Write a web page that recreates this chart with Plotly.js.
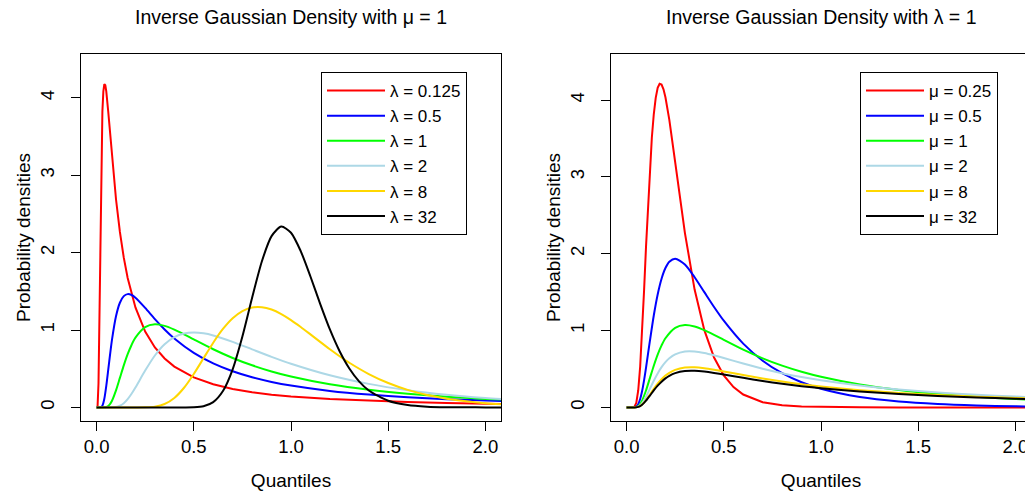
<!DOCTYPE html>
<html>
<head>
<meta charset="utf-8">
<script src="https://cdn.plot.ly/plotly-3.0.1.min.js"></script>
<style>
html,body{margin:0;padding:0;overflow:hidden;background:#fff;}
#plot{width:1060px;height:495px;}
</style>
</head>
<body>
<div id="plot"></div>
<script>
const leftLabels = ["λ = 0.125", "λ = 0.5", "λ = 1", "λ = 2", "λ = 8", "λ = 32"];
const rightLabels = ["μ = 0.25", "μ = 0.5", "μ = 1", "μ = 2", "μ = 8", "μ = 32"];
const colors = ["#FF0000", "#0000FF", "#00FF00", "#ADD8E6", "#FFD700", "#000000"];
const xTickVals = [0, 0.5, 1, 1.5, 2];
const xTickText = ["0.0", "0.5", "1.0", "1.5", "2.0"];
const yTickVals = [0, 1, 2, 3, 4];
const yTickText = ["0", "1", "2", "3", "4"];

// ---------- Left panel: mu = 1, varying lambda ----------
const xL1 = [0, 0.005, 0.01, 0.015, 0.02, 0.025, 0.03, 0.035, 0.04, 0.045, 0.05, 0.06, 0.07, 0.08, 0.1, 0.12, 0.14, 0.16, 0.18, 0.2, 0.25, 0.3, 0.35, 0.4, 0.5, 0.6, 0.7, 0.8, 0.9, 1.0, 1.2, 1.4, 1.6, 1.8, 2.0, 2.1];
const yL1 = [0, 0.0017, 0.308, 1.348, 2.480, 3.314, 3.823, 4.084, 4.177, 4.163, 4.083, 3.823, 3.518, 3.218, 2.689, 2.267, 1.935, 1.673, 1.462, 1.291, 0.980, 0.775, 0.632, 0.527, 0.387, 0.299, 0.239, 0.197, 0.165, 0.141, 0.107, 0.0845, 0.0687, 0.0571, 0.0483, 0.0447];

const xL2 = [0, 0.01, 0.02, 0.03, 0.04, 0.05, 0.06, 0.07, 0.08, 0.1, 0.12, 0.14, 0.16, 0.18, 0.2, 0.25, 0.3, 0.35, 0.4, 0.5, 0.6, 0.7, 0.8, 0.9, 1.0, 1.2, 1.4, 1.6, 1.8, 2.0, 2.1];
const yL2 = [0, 0, 0.0006, 0.0214, 0.1111, 0.2769, 0.4834, 0.6940, 0.8853, 1.1775, 1.3519, 1.4375, 1.4636, 1.4518, 1.4171, 1.2859, 1.1413, 1.0075, 0.8905, 0.7041, 0.5678, 0.4664, 0.3893, 0.3295, 0.2821, 0.2128, 0.1655, 0.1318, 0.1069, 0.0880, 0.0803];

const xL3 = [0, 0.02, 0.04, 0.05, 0.06, 0.07, 0.08, 0.1, 0.12, 0.14, 0.16, 0.18, 0.2, 0.25, 0.3, 0.35, 0.4, 0.45, 0.5, 0.6, 0.7, 0.8, 0.9, 1.0, 1.2, 1.4, 1.6, 1.8, 2.0, 2.1];
const yL3 = [0, 0, 0.0005, 0.0043, 0.0172, 0.0447, 0.0889, 0.2198, 0.3809, 0.5427, 0.6873, 0.8069, 0.9005, 1.0361, 1.0729, 1.0536, 1.0055, 0.9443, 0.8788, 0.7512, 0.6388, 0.5438, 0.4647, 0.3989, 0.2985, 0.2275, 0.1761, 0.1383, 0.1098, 0.0983];

const xL4 = [0, 0.06, 0.08, 0.1, 0.12, 0.14, 0.16, 0.18, 0.2, 0.25, 0.3, 0.35, 0.4, 0.45, 0.5, 0.55, 0.6, 0.7, 0.8, 0.9, 1.0, 1.2, 1.4, 1.6, 1.8, 2.0, 2.1];
const yL4 = [0, 0, 0.0006, 0.0054, 0.0214, 0.0547, 0.1072, 0.1763, 0.2571, 0.4757, 0.6706, 0.8149, 0.9068, 0.9542, 0.9679, 0.9571, 0.9298, 0.8471, 0.7500, 0.6535, 0.5642, 0.4151, 0.3038, 0.2226, 0.1637, 0.1210, 0.1042];

const xL5 = [0, 0.2, 0.25, 0.3, 0.35, 0.4, 0.45, 0.5, 0.55, 0.6, 0.65, 0.7, 0.75, 0.8, 0.85, 0.9, 0.95, 1.0, 1.05, 1.1, 1.15, 1.2, 1.25, 1.3, 1.4, 1.5, 1.6, 1.7, 1.8, 1.9, 2.0, 2.1];
const yL5 = [0, 0, 0.0011, 0.0100, 0.0436, 0.1219, 0.2540, 0.4319, 0.6343, 0.8356, 1.0133, 1.1520, 1.2448, 1.2911, 1.2952, 1.2641, 1.2059, 1.1284, 1.0388, 0.9431, 0.8461, 0.7513, 0.6611, 0.5771, 0.4312, 0.3154, 0.2267, 0.1607, 0.1127, 0.0783, 0.0540, 0.0370];

const xL6 = [0, 0.4, 0.45, 0.5, 0.55, 0.6, 0.65, 0.7, 0.75, 0.8, 0.85, 0.9, 0.95, 1.0, 1.05, 1.1, 1.15, 1.2, 1.25, 1.3, 1.35, 1.4, 1.5, 1.6, 1.7, 1.8, 1.9, 2.0, 2.1];
const yL6 = [0, 0, 0.0002, 0.0021, 0.0153, 0.0681, 0.2111, 0.4925, 0.9159, 1.4172, 1.8854, 2.2127, 2.3368, 2.2568, 2.0191, 1.6913, 1.3381, 1.0072, 0.7256, 0.5030, 0.3369, 0.2188, 0.0854, 0.0305, 0.0101, 0.0032, 0.0009, 0.0003, 0.0001];

// ---------- Right panel: lambda = 1, varying mu ----------
const xR1 = [0, 0.02, 0.03, 0.04, 0.05, 0.06, 0.07, 0.08, 0.09, 0.1, 0.11, 0.12, 0.13, 0.14, 0.15, 0.16, 0.17, 0.18, 0.19, 0.2, 0.22, 0.25, 0.3, 0.35, 0.4, 0.45, 0.5, 0.55, 0.6, 0.7, 0.8, 0.9, 1.0, 1.2, 1.4, 1.6, 2.1];
const yR1 = [0, 0, 0.0002, 0.0074, 0.0593, 0.2204, 0.5311, 0.9799, 1.5181, 2.0854, 2.6288, 3.1105, 3.5088, 3.8145, 4.0286, 4.1576, 4.2115, 4.2017, 4.1396, 4.0358, 3.7416, 3.1916, 2.2713, 1.5330, 1.0055, 0.6490, 0.4151, 0.2641, 0.1676, 0.0673, 0.0271, 0.0109, 0.0044, 0.0007, 0.0001, 0, 0];

const xR2 = [0, 0.02, 0.03, 0.04, 0.05, 0.06, 0.07, 0.08, 0.09, 0.1, 0.12, 0.14, 0.16, 0.18, 0.2, 0.22, 0.25, 0.3, 0.35, 0.4, 0.45, 0.5, 0.6, 0.7, 0.8, 0.9, 1.0, 1.2, 1.4, 1.6, 1.8, 2.0, 2.1];
const yR2 = [0, 0, 0, 0.0013, 0.0108, 0.0428, 0.1094, 0.2143, 0.3526, 0.5143, 0.8648, 1.1958, 1.4695, 1.6745, 1.8134, 1.8956, 1.9358, 1.8596, 1.6942, 1.5001, 1.3070, 1.1284, 0.8302, 0.6076, 0.4452, 0.3274, 0.2420, 0.1341, 0.0757, 0.0434, 0.0253, 0.0149, 0.0115];

const xR3 = xL3;
const yR3 = yL3;

const xR4 = [0, 0.03, 0.04, 0.05, 0.06, 0.07, 0.08, 0.09, 0.1, 0.12, 0.14, 0.16, 0.18, 0.2, 0.22, 0.25, 0.3, 0.35, 0.4, 0.45, 0.5, 0.6, 0.7, 0.8, 0.9, 1.0, 1.2, 1.4, 1.6, 1.8, 2.0, 2.1];
const yR4 = [0, 0, 0.0003, 0.0027, 0.0107, 0.0278, 0.0556, 0.0931, 0.1384, 0.2417, 0.3469, 0.4426, 0.5236, 0.5887, 0.6389, 0.6902, 0.7282, 0.7287, 0.7086, 0.6780, 0.6429, 0.5706, 0.5037, 0.4452, 0.3950, 0.3521, 0.2839, 0.2332, 0.1947, 0.1647, 0.1411, 0.1310];

const xR5 = xR4;
const yR5 = [0, 0, 0.0002, 0.0018, 0.0074, 0.0193, 0.0385, 0.0647, 0.0963, 0.1684, 0.2424, 0.3100, 0.3675, 0.4142, 0.4506, 0.4885, 0.5184, 0.5218, 0.5104, 0.4913, 0.4686, 0.4208, 0.3758, 0.3361, 0.3017, 0.2721, 0.2246, 0.1889, 0.1614, 0.1398, 0.1226, 0.1152];

const xR6 = xR4;
const yR6 = [0, 0, 0.0002, 0.0017, 0.0067, 0.0176, 0.0351, 0.0589, 0.0877, 0.1535, 0.2209, 0.2826, 0.3351, 0.3777, 0.4109, 0.4456, 0.4731, 0.4763, 0.4661, 0.4488, 0.4282, 0.3848, 0.3439, 0.3078, 0.2765, 0.2495, 0.2063, 0.1738, 0.1487, 0.1290, 0.1132, 0.1065];

const leftX = [xL1, xL2, xL3, xL4, xL5, xL6];
const leftY = [yL1, yL2, yL3, yL4, yL5, yL6];
const rightX = [xR1, xR2, xR3, xR4, xR5, xR6];
const rightY = [yR1, yR2, yR3, yR4, yR5, yR6];

// ---------- Build traces ----------
const FONT = "Liberation Sans, Arial, Helvetica, sans-serif";
const W = 1060, H = 495;
const traces = [];
for (let i = 0; i < 6; i++) {
  traces.push({
    type: "scatter", mode: "lines", x: leftX[i], y: leftY[i],
    name: leftLabels[i], xaxis: "x", yaxis: "y", legend: "legend",
    line: {color: colors[i], width: 2, shape: i === 0 ? "linear" : "spline", smoothing: 0.7},
    hoverinfo: "skip"
  });
}
for (let i = 0; i < 6; i++) {
  traces.push({
    type: "scatter", mode: "lines", x: rightX[i], y: rightY[i],
    name: rightLabels[i], xaxis: "x2", yaxis: "y2", legend: "legend2",
    line: {color: colors[i], width: 2, shape: i === 0 ? "linear" : "spline", smoothing: 0.7},
    hoverinfo: "skip"
  });
}

function xAxis(domain, anchor) {
  return {
    domain: domain, anchor: anchor, range: [-0.08, 2.08],
    tickvals: xTickVals, ticktext: xTickText,
    ticks: "outside", ticklen: 9, tickwidth: 1, tickcolor: "#000",
    showline: true, mirror: true, linecolor: "#000", linewidth: 1,
    showgrid: false, zeroline: false,
    tickfont: {family: FONT, size: 18.5, color: "#000"},
    title: {text: "Quantiles", font: {family: FONT, size: 19, color: "#000"}, standoff: 17}
  };
}
function yAxis(domain, anchor, top) {
  return {
    domain: domain, anchor: anchor, range: [-0.04 * top, 1.04 * top],
    tickvals: yTickVals, ticktext: yTickText, tickangle: -90,
    ticks: "outside", ticklen: 9, tickwidth: 1, tickcolor: "#000",
    ticklabelstandoff: 10,
    showline: true, mirror: true, linecolor: "#000", linewidth: 1,
    showgrid: false, zeroline: false,
    tickfont: {family: FONT, size: 18.5, color: "#000"},
    title: {text: "Probability densities", font: {family: FONT, size: 19, color: "#000"}, standoff: 0}
  };
}

const yDom = [(H - 421) / H, (H - 54) / H];
const x1Dom = [81 / W, 501 / W];
const x2Dom = [611 / W, 1031 / W];

const legendBase = {
  xanchor: "left", yanchor: "top", bgcolor: "#fff",
  bordercolor: "#000", borderwidth: 1,
  font: {family: FONT, size: 17, color: "#000"},
  itemwidth: 58, traceorder: "normal"
};

const layout = {
  width: W, height: H,
  margin: {l: 0, r: 0, t: 0, b: 0},
  paper_bgcolor: "#fff", plot_bgcolor: "#fff",
  font: {family: FONT, color: "#000"},
  showlegend: true,
  xaxis: xAxis(x1Dom, "y"),
  yaxis: yAxis(yDom, "x", 4.39),
  xaxis2: xAxis(x2Dom, "y2"),
  yaxis2: yAxis(yDom, "x2", 4.422),
  legend: Object.assign({}, legendBase, {x: 321 / W, y: (H - 72) / H}),
  legend2: Object.assign({}, legendBase, {x: 860 / W, y: (H - 72) / H}),
  annotations: [
    {text: "Inverse Gaussian Density with μ = 1", xref: "paper", yref: "paper",
     x: (x1Dom[0] + x1Dom[1]) / 2, y: (H - 17) / H, xanchor: "center", yanchor: "middle",
     showarrow: false, font: {family: FONT, size: 19.5, color: "#000"}},
    {text: "Inverse Gaussian Density with λ = 1", xref: "paper", yref: "paper",
     x: (x2Dom[0] + x2Dom[1]) / 2, y: (H - 17) / H, xanchor: "center", yanchor: "middle",
     showarrow: false, font: {family: FONT, size: 19.5, color: "#000"}}
  ]
};

Plotly.newPlot("plot", traces, layout, {displayModeBar: false, staticPlot: true});
</script>
</body>
</html>
